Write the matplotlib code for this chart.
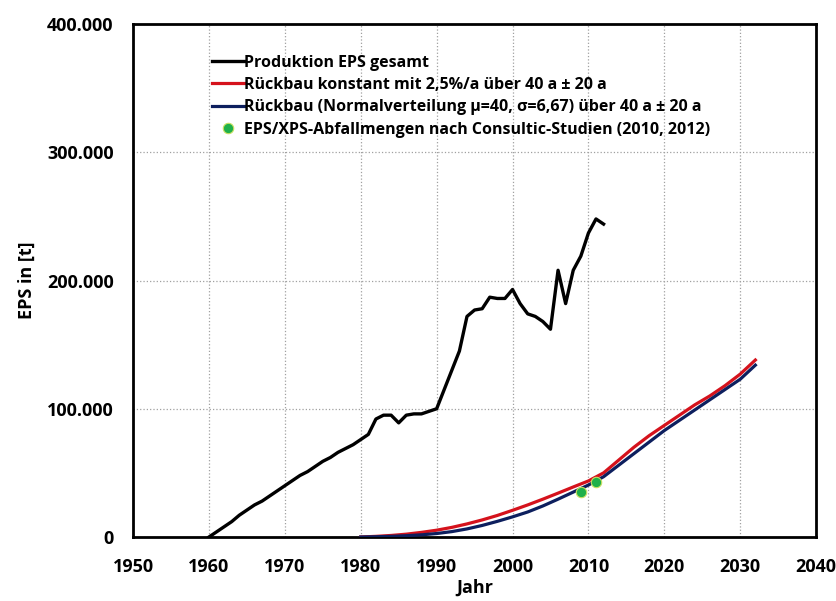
import matplotlib
matplotlib.use("Agg")
import matplotlib.pyplot as plt
from matplotlib.ticker import FuncFormatter, MultipleLocator

plt.rcParams['font.family'] = ['Open Sans', 'DejaVu Sans']
plt.rcParams['font.weight'] = 'bold'

# Production EPS total (t), yearly 1960-2012
prod_years = list(range(1960, 2013))
prod_values = [0, 4000, 8000, 12000, 17000, 21000, 25000, 28000, 32000, 36000,
               40000, 44000, 48000, 51000, 55000, 59000, 62000, 66000, 69000, 72000,
               76000, 80000, 92000, 95000, 95000, 89000, 95000, 96000, 96000, 98000,
               100000, 115000, 130000, 145000, 172000, 177000, 178000, 187000, 186000, 186000,
               193000, 182000, 174000, 172000, 168000, 162000, 208000, 182000, 208000, 219000,
               237000, 248000, 244000]

# Rueckbau curves
rb_years = list(range(1980, 2033, 2))
rb_const = [0, 500, 1200, 2200, 3600, 5300, 7500, 10200, 13300, 16800,
            20800, 25000, 29500, 34200, 39000, 43700, 50000, 60000, 70000, 79000,
            87000, 95000, 103000, 110000, 118000, 127000, 138000]
rb_normal = [0, 200, 500, 1000, 1700, 2700, 4200, 6300, 9000, 12200,
             15700, 19500, 24200, 29500, 35000, 40500, 47000, 56000, 65000, 74000,
             83000, 91000, 99000, 107000, 115000, 123000, 134000]

# Consultic studies
cons_years = [2009, 2011]
cons_values = [35000, 42500]

labels = ["Produktion EPS gesamt",
          "Rückbau konstant mit 2,5%/a über 40 a ± 20 a",
          "Rückbau (Normalverteilung μ=40, σ=6,67) über 40 a ± 20 a",
          "EPS/XPS-Abfallmengen nach Consultic-Studien (2010, 2012)"]

fig = plt.figure(figsize=(8.37, 6.01), dpi=100)
ax = fig.add_axes([0.159, 0.1065, 0.816, 0.8535])

ax.plot(prod_years, prod_values, color='black', lw=2.4, label=labels[0], zorder=3)
ax.plot(rb_years, rb_const, color='#d5121c', lw=2.3, label=labels[1], zorder=3)
ax.plot(rb_years, rb_normal, color='#0d1f5e', lw=2.3, label=labels[2], zorder=3)
ax.plot(cons_years, cons_values, 'o', color='#1fb04a', markersize=7.5,
        markeredgecolor='#c8e060', markeredgewidth=0.8, label=labels[3], zorder=4)

ax.set_xlim(1950, 2040)
ax.set_ylim(0, 400000)
ax.xaxis.set_major_locator(MultipleLocator(10))
ax.yaxis.set_major_locator(MultipleLocator(100000))
ax.yaxis.set_major_formatter(FuncFormatter(lambda v, p: f"{int(v):,}".replace(",", ".")))

ax.grid(True, linestyle=':', color='#a0a0a0', lw=0.9)
ax.tick_params(axis='x', length=0, labelsize=13, pad=15)
ax.tick_params(axis='y', length=0, labelsize=13, pad=14)
for lbl in ax.get_xticklabels() + ax.get_yticklabels():
    lbl.set_fontweight('bold')
for s in ax.spines.values():
    s.set_linewidth(2)

ax.set_xlabel("Jahr", fontsize=13, fontweight='bold', labelpad=2)
ax.set_ylabel("EPS in [t]", fontsize=13, fontweight='bold', labelpad=8)

leg = ax.legend(loc='upper left', bbox_to_anchor=(0.115, 0.940), frameon=False,
                fontsize=11.5, handlelength=2.0, handletextpad=0.05,
                labelspacing=0.39, borderpad=0, borderaxespad=0)
for t in leg.get_texts():
    t.set_fontweight('bold')

fig.savefig("out.png", dpi=100)
